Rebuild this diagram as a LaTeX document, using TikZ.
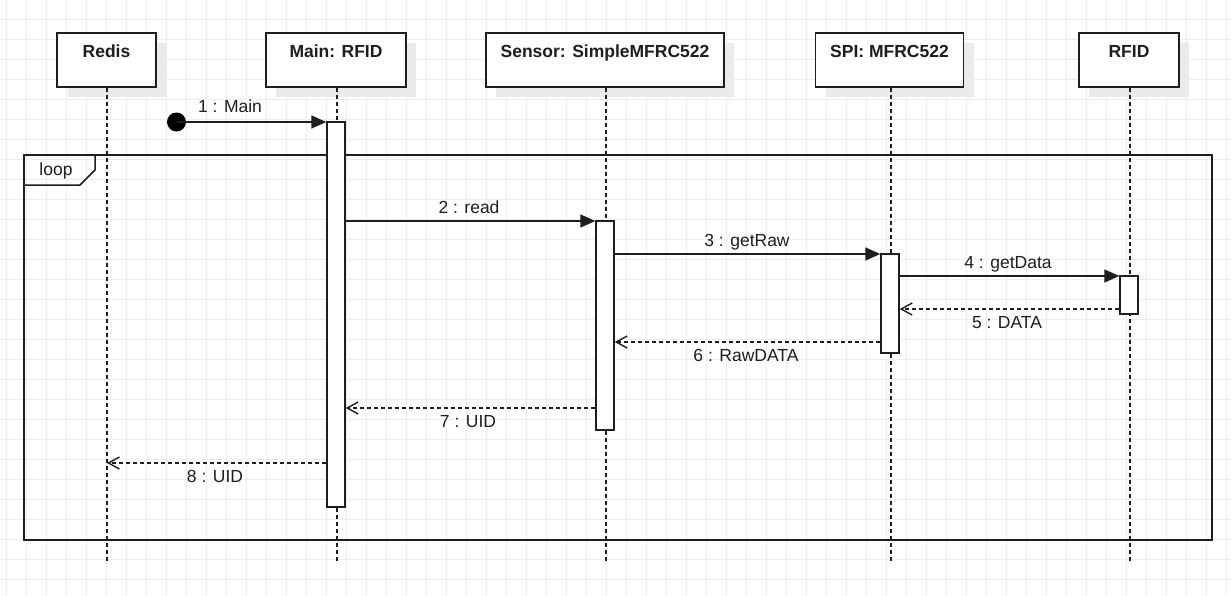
\documentclass[tikz,border=0pt]{standalone}
\usepackage{fontspec}
\setmainfont{Liberation Sans}
\usetikzlibrary{arrows.meta}
\definecolor{ink}{HTML}{1E1E1E}
\definecolor{gridc}{HTML}{EDEDED}
\definecolor{shadowc}{HTML}{EBEBEB}
\tikzset{
  hbox/.style={draw=ink, line width=1.4pt, fill=white, minimum height=54pt, inner sep=0pt},
  htitle/.style={anchor=base, font=\fontsize{17.5}{20}\selectfont\bfseries, text=ink, inner sep=0pt},
  lifeline/.style={draw=ink, line width=1.4pt, dash pattern=on 4pt off 3pt},
  act/.style={draw=ink, line width=1.4pt, fill=white, minimum width=18pt, inner sep=0pt},
  call/.style={draw=ink, line width=1.5pt, -{Triangle[length=15pt,width=13pt]}},
  reply/.style={draw=ink, line width=1.5pt, dash pattern=on 4pt off 3pt, -{Straight Barb[length=11pt,width=12pt,line width=1.4pt]}},
  mlabel/.style={anchor=base, font=\fontsize{17.5}{20}\selectfont, text=ink, inner sep=0pt},
  frame/.style={draw=ink, line width=1.5pt},
}
\begin{document}
\begin{tikzpicture}[x=1pt,y=-1pt]
\useasboundingbox (0,0) rectangle (1231,595);
\fill[white] (0,0) rectangle (1231,595);
% grid
\foreach \gx in {6.5,26.5,...,1230} \draw[gridc, line width=1pt] (\gx,0) -- (\gx,595);
\foreach \gy in {19.5,39.5,...,595} \draw[gridc, line width=1pt] (0,\gy) -- (1231,\gy);
% shadows
\fill[shadowc] (67.5,43) rectangle (166.5,97);
\fill[shadowc] (276,43) rectangle (416,97);
\fill[shadowc] (496,43) rectangle (734,97);
\fill[shadowc] (825.5,43) rectangle (973.5,97);
\fill[shadowc] (1089,43) rectangle (1189,97);
% header boxes
\node[hbox, minimum width=99pt]  (redis) at (106.5,60) {};
\node[hbox, minimum width=140pt] (main)  at (336,60) {};
\node[hbox, minimum width=238pt] (sens)  at (605,60) {};
\node[hbox, minimum width=148pt] (spi)   at (889.5,60) {};
\node[hbox, minimum width=100pt] (rfid)  at (1129,60) {};
\node[htitle] (tredis) at (106.5,57) {Redis};
\node[htitle] (tmain)  at (336,57) {Main: RFID};
\node[htitle] (tsens)  at (605,57) {Sensor: SimpleMFRC522};
\node[htitle] (tspi)   at (889.5,57) {SPI: MFRC522};
\node[htitle] (trfid)  at (1129,57) {RFID};
% lifeline ends
\coordinate (eredis) at (107,562);
\coordinate (emain)  at (337,562);
\coordinate (esens)  at (606,562);
\coordinate (espi)   at (891,562);
\coordinate (erfid)  at (1130,562);
\draw[lifeline] (redis.south -| eredis) -- (eredis);
\draw[lifeline] (main.south -| emain) -- (emain);
\draw[lifeline] (sens.south -| esens) -- (esens);
\draw[lifeline] (spi.south -| espi) -- (espi);
\draw[lifeline] (rfid.south -| erfid) -- (erfid);
% loop frame
\coordinate (ftl) at (24,155);
\coordinate (fbr) at (1212,540);
\draw[frame] (ftl) rectangle (fbr);
\draw[frame] (24,185) -- (80,185) -- (95,170) -- (95,155);
\node[mlabel] (looplbl) at (56,175.5) {loop};
% activations
\node[act, minimum height=385pt] (amain) at (336,314.5) {};
\node[act, minimum height=209pt] (asens) at (605,325.5) {};
\node[act, minimum height=99pt]  (aspi)  at (890,303.5) {};
\node[act, minimum height=38pt]  (arfid) at (1129,295) {};
% start dot
\node[circle, fill=black, minimum size=19pt, inner sep=0pt] (start) at (176.5,122) {};
% messages
\draw[call] (start.center) -- (amain.west |- start.center);
\node[mlabel] (l1) at (230,112.5) {1 : Main};
\draw[call] (amain.east |- 0,221) -- (asens.west |- 0,221);
\node[mlabel] (l2) at (469,213) {2 : read};
\draw[call] (asens.east |- 0,254) -- (aspi.west |- 0,254);
\node[mlabel] (l3) at (747,246) {3 : getRaw};
\draw[call] (aspi.east |- 0,276) -- (arfid.west |- 0,276);
\node[mlabel] (l4) at (1008,268.5) {4 : getData};
\draw[reply] (arfid.west |- 0,309) -- (aspi.east |- 0,309);
\node[mlabel] (l5) at (1007,328.5) {5 : DATA};
\draw[reply] (aspi.west |- 0,342) -- (asens.east |- 0,342);
\node[mlabel] (l6) at (746,361) {6 : RawDATA};
\draw[reply] (asens.west |- 0,408) -- (amain.east |- 0,408);
\node[mlabel] (l7) at (468,427) {7 : UID};
\draw[reply] (amain.west |- 0,463) -- (eredis |- 0,463);
\node[mlabel] (l8) at (215,482) {8 : UID};
\end{tikzpicture}
\end{document}
